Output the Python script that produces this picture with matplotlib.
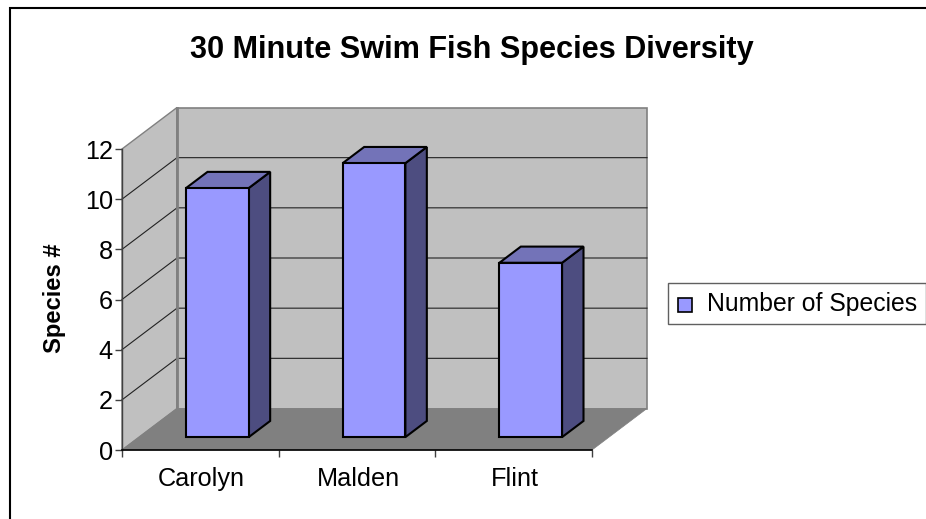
import matplotlib
matplotlib.use('Agg')
import matplotlib.pyplot as plt
from matplotlib.patches import Polygon, Rectangle
from matplotlib.transforms import ScaledTranslation

plt.rcParams['font.family'] = ['Liberation Sans', 'DejaVu Sans']

categories = ['Carolyn', 'Malden', 'Flint']
species = [10, 11, 7]
y_ticks = [0, 2, 4, 6, 8, 10, 12]
title = '30 Minute Swim Fish Species Diversity'
y_label = 'Species #'
series_name = 'Number of Species'

W, H = 926, 519
# axes box is the front edge of the 3d chart, in pixels
AX_L, AX_R, AX_T, AX_B = 122, 592, 149, 450

# depth shift of the back wall, in data units
DEPTH_X = 55 / ((AX_R - AX_L) / 3)
DEPTH_Y = 41.5 / ((AX_B - AX_T) / 12)

WALL = '#c0c0c0'
FLOOR = '#808080'
EDGE = '#808080'
BAR = '#9999ff'
BAR_TOP = '#7373b8'
BAR_SIDE = '#4d4d80'


def proj(x, y, d):
    return (x + d * DEPTH_X, y + d * DEPTH_Y)


fig = plt.figure(figsize=(W / 100, H / 100), dpi=100)
# outer chart border, open on the right and bottom where the screenshot cuts it
fig.add_artist(plt.Line2D([10 / W, 10 / W, 1], [0, 1 - 7.5 / H, 1 - 7.5 / H], transform=fig.transFigure,
                          color='black', lw=1.5, solid_joinstyle='miter'))

ax = fig.add_axes([AX_L / W, 1 - AX_B / H, (AX_R - AX_L) / W, (AX_B - AX_T) / H])
ax.set_xlim(0, len(categories))
ax.set_ylim(0, 12)
ax.patch.set_visible(False)


def face(points, color, edge='black', lw=1.0, z=2):
    ax.add_patch(Polygon(points, closed=True, fc=color, ec=edge, lw=lw, zorder=z,
                         clip_on=False, joinstyle='miter'))


n = len(categories)
ymax = y_ticks[-1]

# walls and floor
face([proj(0, 0, 0), proj(0, ymax, 0), proj(0, ymax, 1), proj(0, 0, 1)], WALL, EDGE, 1.0, 1)
face([proj(0, 0, 1), proj(0, ymax, 1), proj(n, ymax, 1), proj(n, 0, 1)], WALL, EDGE, 1.2, 1)
face([proj(0, 0, 0), proj(n, 0, 0), proj(n, 0, 1), proj(0, 0, 1)], FLOOR, FLOOR, 0.5, 1.2)

# gridlines over left wall and back wall
for v in y_ticks[1:-1]:
    xs, ys = zip(proj(0, v, 0), proj(0, v, 1), proj(n, v, 1))
    ax.plot(xs, ys, color='#222222', lw=0.8, zorder=1.5, clip_on=False)
xs, ys = zip(proj(0, 0, 1), proj(0, ymax, 1))
ax.plot(xs, ys, color=EDGE, lw=2, zorder=1.6, clip_on=False)

# bars, a touch shorter than the axis scale like the reference render
bar_w = 0.4
d0, d1 = 0.31, 0.70
bar_scale = 0.993
for i, v in enumerate(species):
    x0 = i + 0.5 - bar_w / 2
    x1 = i + 0.5 + bar_w / 2
    h = v * bar_scale
    face([proj(x1, 0, d0), proj(x1, h, d0), proj(x1, h, d1), proj(x1, 0, d1)], BAR_SIDE, lw=1.5, z=3)
    face([proj(x0, h, d0), proj(x1, h, d0), proj(x1, h, d1), proj(x0, h, d1)], BAR_TOP, lw=1.5, z=3)
    face([proj(x0, 0, d0), proj(x1, 0, d0), proj(x1, h, d0), proj(x0, h, d0)], BAR, lw=1.5, z=4)

for s in ['top', 'right']:
    ax.spines[s].set_visible(False)
ax.spines['left'].set_color('#404040')
ax.spines['bottom'].set_linewidth(1.2)
ax.spines['left'].set_linewidth(1)

ax.set_yticks(y_ticks)
ax.set_yticklabels([str(v) for v in y_ticks], fontsize=18.2)
ax.set_xticks(range(n + 1))
ax.set_xticklabels([])
ax.set_xticks([i + 0.5 for i in range(n)], minor=True)
ax.set_xticklabels(categories, minor=True, fontsize=18.2)
ax.tick_params(axis='x', which='minor', length=0, pad=12.5)
ax.tick_params(axis='x', which='major', length=5, width=1, color='#404040')
ax.tick_params(axis='y', length=5, width=1, color='#404040', pad=1.5)

# category labels sit slightly right of the slot centre
shift = ScaledTranslation(1.2 / 100, 0, fig.dpi_scale_trans)
for lbl in ax.get_xticklabels(minor=True):
    lbl.set_transform(lbl.get_transform() + shift)

fig.text(471.5 / W, 1 - 50 / H, title, fontsize=22.1, fontweight='bold', ha='center', va='center')
fig.text(54 / W, 1 - 298.5 / H, y_label, fontsize=17.1, fontweight='bold', rotation=90, ha='center', va='center')

# legend
fig.add_artist(Rectangle((667.5 / W, 1 - 324 / H), 258 / W, 41 / H, transform=fig.transFigure,
                         fc='white', ec='#606060', lw=1))
fig.add_artist(Rectangle((677.5 / W, 1 - 312 / H), 14 / W, 14 / H, transform=fig.transFigure,
                         fc=BAR, ec='black', lw=1.2))
fig.text(707 / W, 1 - 304.5 / H, series_name, fontsize=17.85, ha='left', va='center')

fig.savefig('out.png', dpi=100)
